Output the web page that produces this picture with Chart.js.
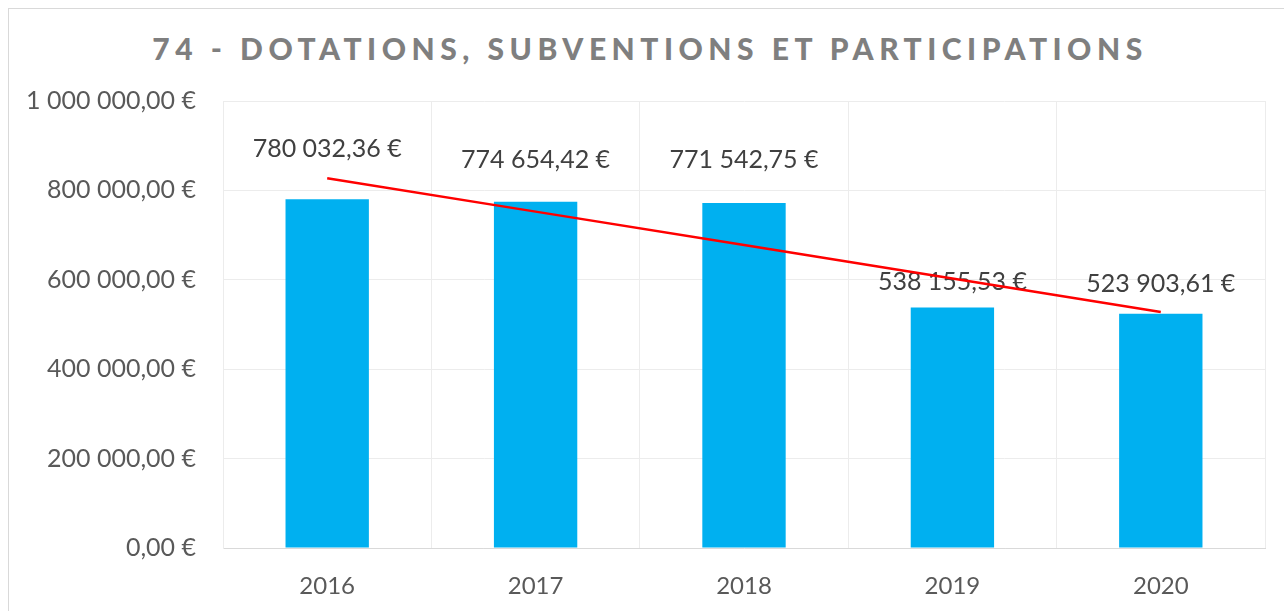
<!DOCTYPE html>
<html>
<head>
<meta charset="utf-8">
<script src="https://cdn.jsdelivr.net/npm/chart.js@4"></script>
<style>
  html, body { margin: 0; padding: 0; background: #fff; }
  #wrap { position: relative; width: 1284px; height: 611px; overflow: hidden; }
  #frame {
    position: absolute; left: 8px; top: 8px; width: 1300px; height: 640px;
    border: 1.5px solid #d9d9d9; box-sizing: border-box;
  }
  #title {
    position: absolute; left: 0; top: 30px; width: 1300px; text-align: center;
    font-family: Lato, "Open Sans", sans-serif; font-weight: 900; font-size: 30px;
    letter-spacing: 5.5px; color: #7f7f7f; white-space: nowrap;
  }
  #chart { position: absolute; left: 0; top: 0; }
</style>
</head>
<body>
<div id="wrap">
  <div id="frame"></div>
  <div id="title">74 - DOTATIONS, SUBVENTIONS ET PARTICIPATIONS</div>
  <canvas id="chart" width="1284" height="611"></canvas>
</div>
<script>
const years = ["2016", "2017", "2018", "2019", "2020"];
const amounts = [780032.36, 774654.42, 771542.75, 538155.53, 523903.61];
// linear trend
const trend = [827409, 752534, 677658, 602782, 527906];
const yTicks = [0, 200000, 400000, 600000, 800000, 1000000];
// how far above each bar its label sits, in px
const labelLift = [50, 42, 43, 26, 30];

const FONT = "Lato, 'Open Sans', sans-serif";

const euro = (v) => {
  const parts = Math.abs(v).toFixed(2).split(".");
  const int = parts[0].replace(/\B(?=(\d{3})+(?!\d))/g, " ");
  return int + "," + parts[1] + " €";
};

// labels go under the trend line, like in the original
const barLabels = {
  id: "barLabels",
  beforeDatasetsDraw(chart) {
    const ctx = chart.ctx;
    const meta = chart.getDatasetMeta(1); // the bars
    ctx.save();
    ctx.font = "25px " + FONT;
    ctx.fillStyle = "#404040";
    ctx.textAlign = "center";
    ctx.textBaseline = "middle";
    meta.data.forEach((bar, i) => {
      ctx.fillText(euro(amounts[i]), bar.x, bar.y - labelLift[i]);
    });
    ctx.restore();
  },
};

new Chart(document.getElementById("chart"), {
  data: {
    labels: years,
    datasets: [
      {
        type: "line",
        data: trend,
        borderColor: "#ff0000",
        borderWidth: 2.5,
        pointRadius: 0,
        fill: false,
        order: 0,
      },
      {
        type: "bar",
        data: amounts,
        backgroundColor: "#00b0f0",
        barPercentage: 0.4,
        categoryPercentage: 1,
        order: 1,
      },
    ],
  },
  options: {
    responsive: false,
    animation: false,
    layout: { padding: { top: 101, right: 19, left: 0, bottom: 0 } },
    plugins: { legend: { display: false }, tooltip: { enabled: false } },
    scales: {
      x: {
        grid: { color: "#ececec", offset: true, drawTicks: false },
        border: { color: "#d9d9d9" },
        ticks: { color: "#595959", font: { family: FONT, size: 24 }, padding: 24 },
        afterFit: (s) => { s.height = 63; },
      },
      y: {
        min: 0,
        max: 1000000,
        afterBuildTicks: (s) => { s.ticks = yTicks.map((v) => ({ value: v })); },
        grid: { color: "#ececec", drawTicks: false },
        border: { color: "#ececec" },
        ticks: {
          color: "#595959",
          font: { family: FONT, size: 25 },
          padding: 27,
          callback: (v) => euro(v),
        },
        afterFit: (s) => { s.width = 223; },
      },
    },
  },
  plugins: [barLabels],
});
</script>
</body>
</html>
